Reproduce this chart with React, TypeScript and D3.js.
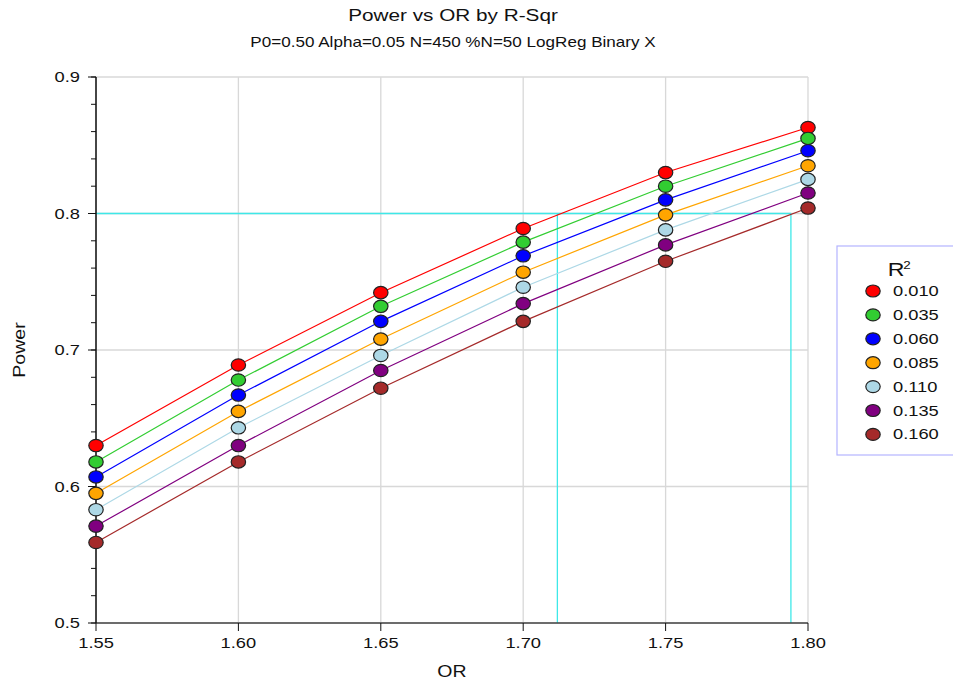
import React from 'react';
import * as d3 from 'd3';

// odds ratios on the x axis
const orValues = [1.55, 1.6, 1.65, 1.7, 1.75, 1.8];

// one power curve per R-squared value
const rsqLabels = ['0.010', '0.035', '0.060', '0.085', '0.110', '0.135', '0.160'];
const rsqColors = ['#ff0000', '#32cd32', '#0000ff', '#ffa500', '#add8e6', '#800080', '#a52a2a'];

const power010 = [0.630, 0.689, 0.742, 0.789, 0.830, 0.863];
const power035 = [0.618, 0.678, 0.732, 0.779, 0.820, 0.855];
const power060 = [0.607, 0.667, 0.721, 0.769, 0.810, 0.846];
const power085 = [0.595, 0.655, 0.708, 0.757, 0.799, 0.835];
const power110 = [0.583, 0.643, 0.696, 0.746, 0.788, 0.825];
const power135 = [0.571, 0.630, 0.685, 0.734, 0.777, 0.815];
const power160 = [0.559, 0.618, 0.672, 0.721, 0.765, 0.804];
const powerSeries = [power010, power035, power060, power085, power110, power135, power160];

// reference lines: target power and where first/last curve reach it
const targetPower = 0.8;
const crossingOR = [1.712, 1.794];

const xTicks = ['1.55', '1.60', '1.65', '1.70', '1.75', '1.80'];
const yTicks = ['0.5', '0.6', '0.7', '0.8', '0.9'];

const W = 953;
const H = 686;
const SX = 1.22; // horizontal stretch of text in the original

const font = '"Liberation Sans", Arial, sans-serif';

function T({x, y, size, anchor = 'middle', children, rotate}: any) {
    const tr = rotate
        ? `translate(${x},${y}) rotate(${rotate}) scale(${SX},1)`
        : `translate(${x},${y}) scale(${SX},1)`;
    return (
        <text transform={tr} fontSize={size} textAnchor={anchor} fontFamily={font} fill="#111">
            {children}
        </text>
    );
}

export default function App() {
    const x = d3.scaleLinear().domain([1.55, 1.8]).range([96, 808]);
    const y = d3.scaleLinear().domain([0.5, 0.9]).range([623, 77]);

    const line = d3.line<number>()
        .x((_, i) => x(orValues[i]))
        .y((d) => y(d));

    const minorTicks = d3.range(0.5, 0.9001, 0.02);

    const legendRows = rsqLabels.map((_, i) => 291 + i * 23.9);

    return (
        <svg width={W} height={H} style={{position: 'absolute', left: 0, top: 0, background: '#fff'}}>
            <rect width={W} height={H} fill="#fff"/>

            {/* titles */}
            <T x={453} y={21} size={17}>Power vs OR by R-Sqr</T>
            <T x={453} y={47} size={14}>P0=0.50 Alpha=0.05 N=450 %N=50 LogReg Binary X</T>

            {/* grid */}
            {xTicks.map((t) => (
                <line key={'gx' + t} x1={x(+t)} x2={x(+t)} y1={y(0.9)} y2={y(0.5)} stroke="#d8d8d8" strokeWidth={1.3}/>
            ))}
            {yTicks.map((t) => (
                <line key={'gy' + t} x1={x(1.55)} x2={x(1.8)} y1={y(+t)} y2={y(+t)} stroke="#d8d8d8" strokeWidth={1.3}/>
            ))}

            {/* target power reference lines */}
            <line x1={x(1.55)} x2={x(crossingOR[1])} y1={y(targetPower)} y2={y(targetPower)} stroke="#3ee8e8" strokeWidth={1.3}/>
            {crossingOR.map((c) => (
                <line key={'c' + c} x1={x(c)} x2={x(c)} y1={y(targetPower)} y2={y(0.5)} stroke="#3ee8e8" strokeWidth={1.3}/>
            ))}

            {/* axes */}
            <line x1={x(1.55)} x2={x(1.8)} y1={y(0.5)} y2={y(0.5)} stroke="#444" strokeWidth={1.5}/>
            <line x1={x(1.55)} x2={x(1.55)} y1={y(0.9)} y2={y(0.5)} stroke="#111" strokeWidth={1.5}/>
            {minorTicks.map((v) => (
                <line key={'m' + v} x1={x(1.55) - 5} x2={x(1.55)} y1={y(v)} y2={y(v)} stroke="#111" strokeWidth={1}/>
            ))}
            {yTicks.map((t) => (
                <g key={'yt' + t}>
                    <line x1={x(1.55) - 8} x2={x(1.55)} y1={y(+t)} y2={y(+t)} stroke="#111" strokeWidth={1}/>
                    <T x={80} y={y(+t) + 5} size={15} anchor="end">{t}</T>
                </g>
            ))}
            {xTicks.map((t) => (
                <g key={'xt' + t}>
                    <line x1={x(+t)} x2={x(+t)} y1={y(0.5)} y2={y(0.5) + 8} stroke="#111" strokeWidth={1}/>
                    <T x={x(+t)} y={648} size={15}>{t}</T>
                </g>
            ))}
            <T x={452} y={677} size={16}>OR</T>
            <T x={25} y={350} size={16} rotate={-90}>Power</T>

            {/* series */}
            {powerSeries.map((s, k) => (
                <path key={'l' + k} d={line(s) || ''} fill="none" stroke={rsqColors[k]} strokeWidth={1.2}/>
            ))}
            {powerSeries.map((s, k) => (
                <g key={'p' + k}>
                    {s.map((v, i) => (
                        <ellipse key={i} cx={x(orValues[i])} cy={y(v)} rx={7.2} ry={6.2}
                                 fill={rsqColors[k]} stroke="#222" strokeWidth={1.2}/>
                    ))}
                </g>
            ))}

            {/* legend */}
            <rect x={837} y={246} width={200} height={209} fill="#fff" stroke="#b4b4ff" strokeWidth={1.2}/>
            <T x={896} y={276} size={19}>R</T>
            <T x={907} y={269} size={11}>2</T>
            {rsqLabels.map((lab, i) => (
                <g key={'lg' + lab}>
                    <ellipse cx={873} cy={legendRows[i]} rx={7.2} ry={6} fill={rsqColors[i]} stroke="#222" strokeWidth={1.2}/>
                    <T x={893} y={legendRows[i] + 5} size={15} anchor="start">{lab}</T>
                </g>
            ))}
        </svg>
    );
}
